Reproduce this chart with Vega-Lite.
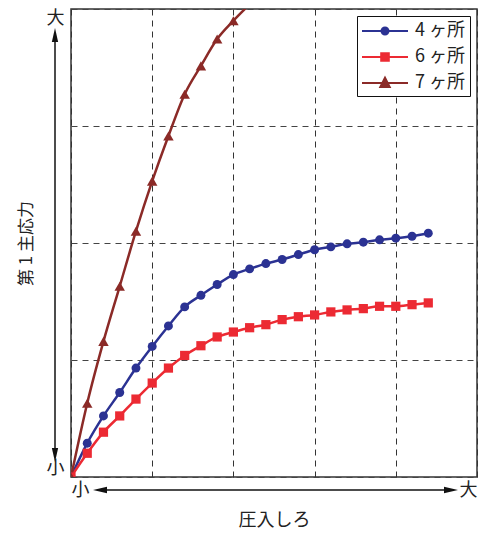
{
  "$schema": "https://vega.github.io/schema/vega-lite/v6.json",
  "autosize": {"type": "none"},
  "width": 406,
  "height": 468,
  "padding": {"left": 71, "top": 9, "right": 7, "bottom": 58},
  "background": "white",
  "config": {
    "font": "Noto Sans CJK JP",
    "view": {"stroke": "#333333", "strokeWidth": 1.5},
    "axis": {"labelFont": "Noto Sans CJK JP", "titleFont": "Noto Sans CJK JP", "labelColor": "#222222", "titleColor": "#222222", "titleFontWeight": "normal"}
  },
  "data": {"values": [
    {"series": "4 ヶ所", "x": 0, "y": 0},
    {"series": "4 ヶ所", "x": 0.2, "y": 0.289},
    {"series": "4 ヶ所", "x": 0.4, "y": 0.522},
    {"series": "4 ヶ所", "x": 0.6, "y": 0.722},
    {"series": "4 ヶ所", "x": 0.8, "y": 0.931},
    {"series": "4 ヶ所", "x": 1.0, "y": 1.116},
    {"series": "4 ヶ所", "x": 1.2, "y": 1.291},
    {"series": "4 ヶ所", "x": 1.4, "y": 1.454},
    {"series": "4 ヶ所", "x": 1.6, "y": 1.553},
    {"series": "4 ヶ所", "x": 1.8, "y": 1.645},
    {"series": "4 ヶ所", "x": 2.0, "y": 1.730},
    {"series": "4 ヶ所", "x": 2.2, "y": 1.779},
    {"series": "4 ヶ所", "x": 2.4, "y": 1.824},
    {"series": "4 ヶ所", "x": 2.6, "y": 1.859},
    {"series": "4 ヶ所", "x": 2.8, "y": 1.901},
    {"series": "4 ヶ所", "x": 3.0, "y": 1.942},
    {"series": "4 ヶ所", "x": 3.2, "y": 1.967},
    {"series": "4 ヶ所", "x": 3.4, "y": 1.993},
    {"series": "4 ヶ所", "x": 3.6, "y": 2.007},
    {"series": "4 ヶ所", "x": 3.8, "y": 2.027},
    {"series": "4 ヶ所", "x": 4.0, "y": 2.041},
    {"series": "4 ヶ所", "x": 4.2, "y": 2.058},
    {"series": "4 ヶ所", "x": 4.4, "y": 2.084},
    {"series": "6 ヶ所", "x": 0, "y": 0},
    {"series": "6 ヶ所", "x": 0.2, "y": 0.203},
    {"series": "6 ヶ所", "x": 0.4, "y": 0.383},
    {"series": "6 ヶ所", "x": 0.6, "y": 0.522},
    {"series": "6 ヶ所", "x": 0.8, "y": 0.666},
    {"series": "6 ヶ所", "x": 1.0, "y": 0.803},
    {"series": "6 ヶ所", "x": 1.2, "y": 0.931},
    {"series": "6 ヶ所", "x": 1.4, "y": 1.039},
    {"series": "6 ヶ所", "x": 1.6, "y": 1.122},
    {"series": "6 ヶ所", "x": 1.8, "y": 1.197},
    {"series": "6 ヶ所", "x": 2.0, "y": 1.239},
    {"series": "6 ヶ所", "x": 2.2, "y": 1.276},
    {"series": "6 ヶ所", "x": 2.4, "y": 1.302},
    {"series": "6 ヶ所", "x": 2.6, "y": 1.345},
    {"series": "6 ヶ所", "x": 2.8, "y": 1.370},
    {"series": "6 ヶ所", "x": 3.0, "y": 1.385},
    {"series": "6 ヶ所", "x": 3.2, "y": 1.411},
    {"series": "6 ヶ所", "x": 3.4, "y": 1.428},
    {"series": "6 ヶ所", "x": 3.6, "y": 1.439},
    {"series": "6 ヶ所", "x": 3.8, "y": 1.459},
    {"series": "6 ヶ所", "x": 4.0, "y": 1.459},
    {"series": "6 ヶ所", "x": 4.2, "y": 1.473},
    {"series": "6 ヶ所", "x": 4.4, "y": 1.488},
    {"series": "7 ヶ所", "x": 0, "y": 0},
    {"series": "7 ヶ所", "x": 0.2, "y": 0.631},
    {"series": "7 ヶ所", "x": 0.4, "y": 1.159},
    {"series": "7 ヶ所", "x": 0.6, "y": 1.630},
    {"series": "7 ヶ所", "x": 0.8, "y": 2.101},
    {"series": "7 ヶ所", "x": 1.0, "y": 2.529},
    {"series": "7 ヶ所", "x": 1.2, "y": 2.915},
    {"series": "7 ヶ所", "x": 1.4, "y": 3.272},
    {"series": "7 ヶ所", "x": 1.6, "y": 3.514},
    {"series": "7 ヶ所", "x": 1.8, "y": 3.743},
    {"series": "7 ヶ所", "x": 2.0, "y": 3.900},
    {"series": "7 ヶ所", "x": 2.2, "y": 4.04}
  ]},
  "layer": [
    {
      "mark": {"type": "line", "clip": true, "strokeWidth": 2.5, "interpolate": "monotone"},
      "encoding": {
        "x": {"field": "x", "type": "quantitative", "scale": {"domain": [0, 5], "nice": false, "zero": false},
          "axis": {"values": [0, 1, 2, 3, 4, 5], "labelExpr": "datum.value == 0 ? '小' : datum.value == 5 ? '大' : ''", "labelFlush": true, "labelFontSize": 18, "labelPadding": 4, "ticks": false, "domain": false, "grid": true, "gridColor": "#333333", "gridDash": [6, 5], "gridWidth": 1, "gridOpacity": 1, "title": "圧入しろ", "titleFontSize": 18, "titlePadding": 12}},
        "y": {"field": "y", "type": "quantitative", "scale": {"domain": [0, 4], "nice": false, "zero": false},
          "axis": {"values": [0, 1, 2, 3, 4], "labelExpr": "datum.value == 0 ? '小' : datum.value == 4 ? '大' : ''", "labelFlush": true, "labelFontSize": 18, "labelPadding": 7, "ticks": false, "domain": false, "grid": true, "gridColor": "#444444", "gridDash": [6, 5], "gridWidth": 1, "gridOpacity": 1, "title": "第 1 主応力", "titleFontSize": 17, "titlePadding": 11}},
        "color": {"field": "series", "type": "nominal",
          "scale": {"domain": ["4 ヶ所", "6 ヶ所", "7 ヶ所"], "range": ["#2b3293", "#ec2a33", "#8b2a27"]},
          "legend": {"title": null, "orient": "top-right", "offset": 7, "padding": 4, "fillColor": "white", "strokeColor": "#111111", "cornerRadius": 0,
            "labelFontSize": 18, "labelFont": "Noto Sans CJK JP", "labelColor": "#222222", "labelOffset": 32, "symbolSize": 400, "rowPadding": 6,
            "symbolStrokeWidth": 2,
            "encode": {"symbols": {"update": {
              "shape": {"signal": "datum.value == '4 ヶ所' ? 'M-1.0,0L3.6,0M1.65,0A0.35,0.35 0 1,1 0.95,0A0.35,0.35 0 1,1 1.65,0Z' : datum.value == '6 ヶ所' ? 'M-1.0,0L3.6,0M1.68,-0.38L1.68,0.38L0.92,0.38L0.92,-0.38Z' : 'M-1.0,0L3.6,0M1.3,-0.52L1.77,0.4L0.83,0.4Z'"},
              "fill": {"signal": "scale('color', datum.value)"},
              "stroke": {"signal": "scale('color', datum.value)"},
              "strokeWidth": {"value": 2},
              "opacity": {"value": 1}
            }}}}},
        "detail": {"field": "series"}
      }
    },
    {
      "transform": [{"filter": "datum.series == '4 ヶ所'"}],
      "mark": {"type": "point", "filled": true, "clip": true, "opacity": 1, "shape": "circle", "size": 80},
      "encoding": {
        "x": {"field": "x", "type": "quantitative"},
        "y": {"field": "y", "type": "quantitative"},
        "color": {"field": "series", "type": "nominal"}
      }
    },
    {
      "transform": [{"filter": "datum.series == '6 ヶ所'"}],
      "mark": {"type": "point", "filled": true, "clip": true, "opacity": 1, "shape": "square", "size": 85},
      "encoding": {
        "x": {"field": "x", "type": "quantitative"},
        "y": {"field": "y", "type": "quantitative"},
        "color": {"field": "series", "type": "nominal"}
      }
    },
    {
      "transform": [{"filter": "datum.series == '7 ヶ所' && datum.y <= 4"}],
      "mark": {"type": "point", "filled": true, "clip": true, "opacity": 1, "shape": "triangle-up", "size": 110},
      "encoding": {
        "x": {"field": "x", "type": "quantitative"},
        "y": {"field": "y", "type": "quantitative"},
        "color": {"field": "series", "type": "nominal"}
      }
    },
    {
      "data": {"values": [{}]},
      "mark": {"type": "rule", "color": "#111111", "strokeWidth": 1.5, "clip": false},
      "encoding": {"x": {"datum": -0.197, "type": "quantitative"}, "y": {"datum": 0.2, "type": "quantitative"}, "y2": {"datum": 3.76}}
    },
    {
      "data": {"values": [{}]},
      "mark": {"type": "rule", "color": "#111111", "strokeWidth": 1.5, "clip": false},
      "encoding": {"y": {"datum": -0.111, "type": "quantitative"}, "x": {"datum": 0.37, "type": "quantitative"}, "x2": {"datum": 4.67}}
    },
    {
      "data": {"values": [{}]},
      "mark": {"type": "point", "filled": true, "color": "#111111", "opacity": 1, "size": 196, "shape": "M0,-1L0.45,1L-0.45,1Z", "clip": false},
      "encoding": {"x": {"datum": -0.197, "type": "quantitative"}, "y": {"datum": 3.777, "type": "quantitative"}}
    },
    {
      "data": {"values": [{}]},
      "mark": {"type": "point", "filled": true, "color": "#111111", "opacity": 1, "size": 196, "shape": "M0,1L0.45,-1L-0.45,-1Z", "clip": false},
      "encoding": {"x": {"datum": -0.197, "type": "quantitative"}, "y": {"datum": 0.188, "type": "quantitative"}}
    },
    {
      "data": {"values": [{}]},
      "mark": {"type": "point", "filled": true, "color": "#111111", "opacity": 1, "size": 196, "shape": "M-1,0L1,-0.45L1,0.45Z", "clip": false},
      "encoding": {"x": {"datum": 0.357, "type": "quantitative"}, "y": {"datum": -0.111, "type": "quantitative"}}
    },
    {
      "data": {"values": [{}]},
      "mark": {"type": "point", "filled": true, "color": "#111111", "opacity": 1, "size": 196, "shape": "M1,0L-1,-0.45L-1,0.45Z", "clip": false},
      "encoding": {"x": {"datum": 4.68, "type": "quantitative"}, "y": {"datum": -0.111, "type": "quantitative"}}
    }
  ]
}
